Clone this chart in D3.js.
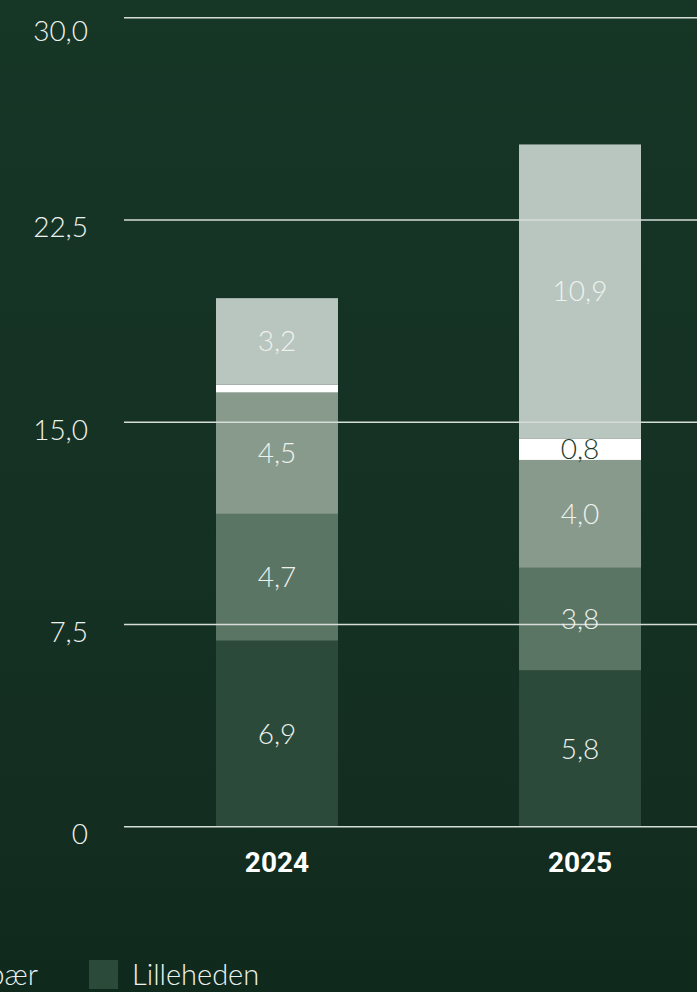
<!DOCTYPE html>
<html>
<head>
<meta charset="utf-8">
<script src="https://cdn.jsdelivr.net/npm/d3@7"></script>
<style>
  html, body { margin: 0; padding: 0; background: #12301f; }
  svg { display: block; }
</style>
</head>
<body>
<script>
// Stacked production per year, bottom segment first
const years = ["2024", "2025"];
const segmentKeys = ["lilleheden", "s2", "s3", "s4", "s5"];
const lilleheden = [6.9, 5.8];
const s2 = [4.7, 3.8];
const s3 = [4.5, 4.0];
const s4 = [0.3, 0.8];
const s5 = [3.2, 10.9];
const showLabel = [[true, true], [true, true], [true, true], [false, true], [true, true]];
const yTicks = [0, 7.5, 15, 22.5, 30];
const segmentColors = ["#2c4a3a", "#5b7565", "#889a8c", "#ffffff", "#b9c5bf"];
const labelColors = ["#eef2ef", "#eef2ef", "#eef2ef", "#1b3c2b", "#eef2ef"];
const legendItems = [
  { label: "Blåbær", color: "#b9c5bf" },
  { label: "Lilleheden", color: "#2c4a3a" }
];

const W = 697, H = 992;
const fmt = v => d3.format(".1f")(v).replace(".", ",");
const tickFmt = v => v === 0 ? "0" : fmt(v);

const svg = d3.select("body").append("svg").attr("width", W).attr("height", H);

const defs = svg.append("defs");
const grad = defs.append("linearGradient").attr("id", "bg").attr("x1", 0).attr("y1", 0).attr("x2", 0).attr("y2", 1);
grad.append("stop").attr("offset", "0%").attr("stop-color", "#163626");
grad.append("stop").attr("offset", "75%").attr("stop-color", "#142f22");
grad.append("stop").attr("offset", "100%").attr("stop-color", "#10291d");
svg.append("rect").attr("width", W).attr("height", H).attr("fill", "url(#bg)");

const y = d3.scaleLinear().domain([0, 30]).range([826.7, 17.7]);
const x = d3.scaleBand().domain(years).range([124, 733]).paddingInner(0.5974).paddingOuter(0.3036);

const table = years.map((yr, i) => {
  const row = { year: yr };
  row.lilleheden = lilleheden[i];
  row.s2 = s2[i];
  row.s3 = s3[i];
  row.s4 = s4[i];
  row.s5 = s5[i];
  return row;
});
const stacked = d3.stack().keys(segmentKeys)(table);

// bars
const layers = svg.append("g").selectAll("g").data(stacked).join("g")
  .attr("fill", (d, i) => segmentColors[i]);
layers.selectAll("rect").data(d => d).join("rect")
  .attr("x", d => x(d.data.year))
  .attr("width", x.bandwidth())
  .attr("y", d => y(d[1]))
  .attr("height", d => y(d[0]) - y(d[1]));

// gridlines over the bars
const yAxis = d3.axisLeft(y).tickValues(yTicks).tickSize(0).tickFormat(tickFmt);
const grid = svg.append("g");
grid.selectAll("line").data(yTicks).join("line")
  .attr("x1", 124).attr("x2", W)
  .attr("y1", d => y(d)).attr("y2", d => y(d))
  .attr("stroke", "#d6ddd8").attr("stroke-width", 1.4);

const axisG = svg.append("g").attr("transform", "translate(88,0)").call(yAxis);
axisG.select(".domain").remove();
axisG.selectAll("text")
  .attr("x", 0)
  .attr("dy", null)
  .attr("y", function (d) { return Math.max(17, 40 - y(d)); })
  .attr("fill", "#eef2ef")
  .attr("font-family", "Lato, 'Open Sans', sans-serif")
  .attr("font-weight", 300)
  .attr("font-size", 28)
  .attr("text-anchor", "end");

// value labels
stacked.forEach((layer, li) => {
  svg.append("g").selectAll("text").data(layer.filter((d, i) => showLabel[li][i])).join("text")
    .attr("x", d => x(d.data.year) + x.bandwidth() / 2)
    .attr("y", d => (y(d[0]) + y(d[1])) / 2)
    .attr("dy", "0.36em")
    .attr("text-anchor", "middle")
    .attr("fill", labelColors[li])
    .attr("font-family", "Lato, 'Open Sans', sans-serif")
    .attr("font-weight", 300)
    .attr("font-size", 28)
    .text(d => fmt(d[1] - d[0]));
});

// year labels
const xAxis = d3.axisBottom(x).tickSize(0);
const xg = svg.append("g").attr("transform", "translate(0,826.7)").call(xAxis);
xg.select(".domain").remove();
xg.selectAll("text")
  .attr("y", 45)
  .attr("dy", null)
  .attr("fill", "#ffffff")
  .attr("font-family", "Roboto, 'Liberation Sans', sans-serif")
  .attr("font-weight", 700)
  .attr("font-size", 28);

// legend
const legend = svg.append("g");
legend.append("text")
  .attr("x", 38).attr("y", 985)
  .attr("text-anchor", "end")
  .attr("fill", "#eef2ef")
  .attr("font-family", "Lato, 'Open Sans', sans-serif")
  .attr("font-weight", 300)
  .attr("font-size", 29)
  .text(legendItems[0].label);
legend.append("rect")
  .attr("x", 89).attr("y", 960).attr("width", 29).attr("height", 29)
  .attr("fill", legendItems[1].color);
legend.append("text")
  .attr("x", 132).attr("y", 985)
  .attr("fill", "#eef2ef")
  .attr("font-family", "Lato, 'Open Sans', sans-serif")
  .attr("font-weight", 300)
  .attr("font-size", 29)
  .text(legendItems[1].label);
</script>
</body>
</html>
